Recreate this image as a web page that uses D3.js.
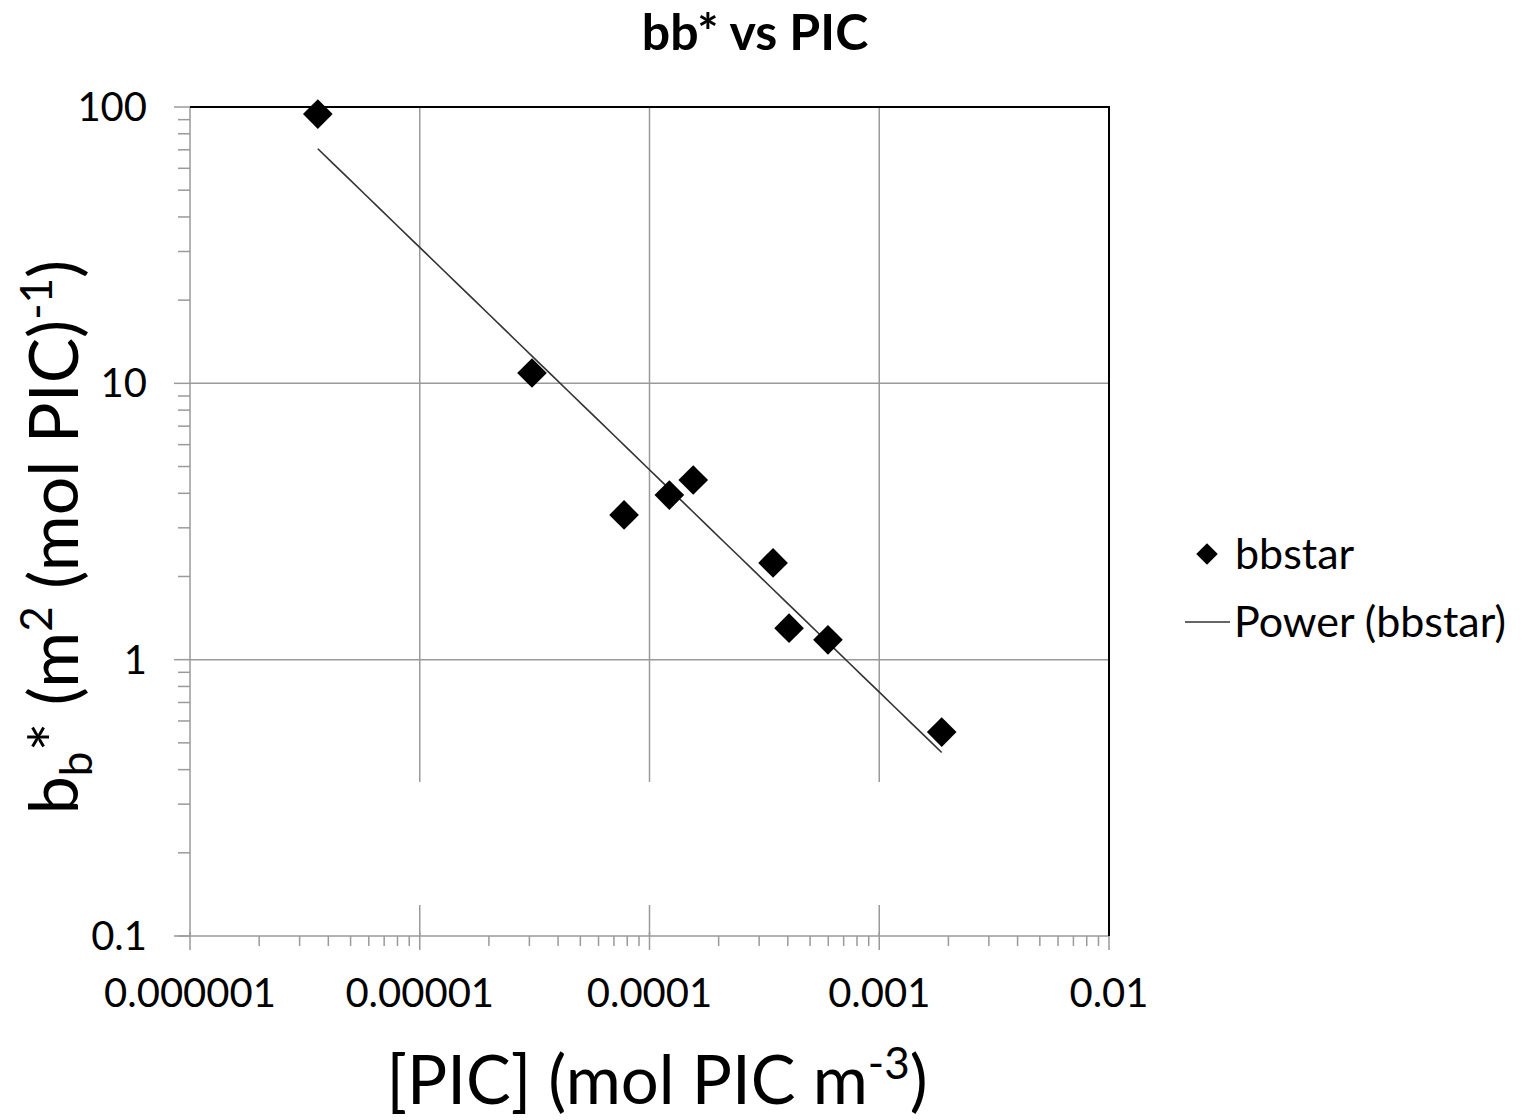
<!DOCTYPE html>
<html>
<head>
<meta charset="utf-8">
<script src="https://cdn.jsdelivr.net/npm/d3@7"></script>
<style>
  html, body { margin: 0; padding: 0; background: #fff; }
  svg { display: block; font-family: Lato, "Open Sans", sans-serif; }
</style>
</head>
<body>
<svg id="chart" width="1523" height="1120"></svg>
<script>
// PIC concentration (mol PIC m^-3) and backscattering per mol PIC
const picValues = [3.6e-6, 3.08e-5, 7.75e-5, 1.22e-4, 1.55e-4, 3.45e-4, 4.05e-4, 5.98e-4, 1.87e-3];
const bbstarValues = [94.3, 10.9, 3.34, 3.94, 4.47, 2.24, 1.30, 1.18, 0.547];

const xTickValues = [1e-6, 1e-5, 1e-4, 1e-3, 1e-2];
const xTickLabels = ["0.000001", "0.00001", "0.0001", "0.001", "0.01"];
const yTickValues = [0.1, 1, 10, 100];
const yTickLabels = ["0.1", "1", "10", "100"];

const svg = d3.select("#chart");
const m = { left: 190, right: 1109, top: 107, bottom: 936 };

const x = d3.scaleLog().domain([1e-6, 1e-2]).range([m.left, m.right]);
const y = d3.scaleLog().domain([0.1, 100]).range([m.bottom, m.top]);

const gridColor = "#9a9a9a";

// Major gridlines
const grid = svg.append("g");
grid.selectAll(".vgrid").data(xTickValues.slice(1, -1)).join("line")
  .attr("x1", d => x(d)).attr("x2", d => x(d))
  .attr("y1", m.top).attr("y2", m.bottom)
  .attr("stroke", gridColor).attr("stroke-width", 1.5);
grid.selectAll(".hgrid").data(yTickValues.slice(1, -1)).join("line")
  .attr("x1", m.left).attr("x2", m.right)
  .attr("y1", d => y(d)).attr("y2", d => y(d))
  .attr("stroke", gridColor).attr("stroke-width", 1.5);
// blank band across the lower plot area
grid.append("rect")
  .attr("x", m.left + 5).attr("width", m.right - m.left - 10)
  .attr("y", 782).attr("height", 123)
  .attr("fill", "#fff");

// Minor tick values (2..9 per decade)
function minorTicks(lo, hi) {
  const out = [];
  for (let e = Math.log10(lo); e < Math.log10(hi); e++) {
    for (let k = 2; k <= 9; k++) out.push(k * Math.pow(10, e));
  }
  return out;
}

// Bottom axis
const xAxis = svg.append("g");
xAxis.append("line").attr("x1", m.left - 12).attr("x2", m.right)
  .attr("y1", m.bottom).attr("y2", m.bottom)
  .attr("stroke", gridColor).attr("stroke-width", 1.5);
xAxis.selectAll(".xmin").data(minorTicks(1e-6, 1e-2)).join("line")
  .attr("x1", d => x(d)).attr("x2", d => x(d))
  .attr("y1", m.bottom).attr("y2", m.bottom + 10)
  .attr("stroke", gridColor).attr("stroke-width", 1.5);
xAxis.selectAll(".xmaj").data(xTickValues).join("line")
  .attr("x1", d => x(d)).attr("x2", d => x(d))
  .attr("y1", m.bottom - 4).attr("y2", m.bottom + 14)
  .attr("stroke", gridColor).attr("stroke-width", 1.5);
xAxis.selectAll(".xlab").data(xTickValues).join("text")
  .attr("x", d => x(d)).attr("y", 1007)
  .attr("text-anchor", "middle").attr("font-size", 40).attr("fill", "#000")
  .text((d, i) => xTickLabels[i]);

// Left axis
const yAxis = svg.append("g");
yAxis.append("line").attr("x1", m.left).attr("x2", m.left)
  .attr("y1", m.top).attr("y2", m.bottom)
  .attr("stroke", gridColor).attr("stroke-width", 1.5);
yAxis.selectAll(".ymin").data(minorTicks(0.1, 100)).join("line")
  .attr("x1", m.left - 12).attr("x2", m.left)
  .attr("y1", d => y(d)).attr("y2", d => y(d))
  .attr("stroke", gridColor).attr("stroke-width", 1.5);
yAxis.selectAll(".ymaj").data(yTickValues).join("line")
  .attr("x1", m.left - 16).attr("x2", m.left)
  .attr("y1", d => y(d)).attr("y2", d => y(d))
  .attr("stroke", gridColor).attr("stroke-width", 1.5);
yAxis.selectAll(".ylab").data(yTickValues).join("text")
  .attr("x", 147).attr("y", d => y(d) + 14)
  .attr("text-anchor", "end").attr("font-size", 40).attr("fill", "#000")
  .text((d, i) => yTickLabels[i]);

// Top and right frame
svg.append("path")
  .attr("d", `M${m.left},${m.top}H${m.right}V${m.bottom}`)
  .attr("fill", "none").attr("stroke", "#000").attr("stroke-width", 2);

// Power-law trend fitted by least squares in log-log space
const lx = picValues.map(Math.log10), ly = bbstarValues.map(Math.log10);
const mx = d3.mean(lx), my = d3.mean(ly);
const slope = d3.sum(lx, (v, i) => (v - mx) * (ly[i] - my)) / d3.sum(lx, v => (v - mx) ** 2);
const intercept = my - slope * mx;
const power = v => Math.pow(10, intercept + slope * Math.log10(v));
const [xMin, xMax] = d3.extent(picValues);
const trendX = d3.range(0, 41).map(i => Math.pow(10, Math.log10(xMin) + i / 40 * (Math.log10(xMax) - Math.log10(xMin))));
svg.append("path")
  .datum(trendX)
  .attr("d", d3.line().x(d => x(d)).y(d => y(power(d))))
  .attr("fill", "none").attr("stroke", "#333").attr("stroke-width", 1.6);

// Data markers (rotated squares)
svg.append("g").selectAll("path").data(picValues).join("path")
  .attr("transform", (d, i) => `translate(${x(d)},${y(bbstarValues[i])}) rotate(45)`)
  .attr("d", d3.symbol().type(d3.symbolSquare).size(440))
  .attr("fill", "#000");

// Title
svg.append("text").attr("x", 755).attr("y", 50)
  .attr("text-anchor", "middle").attr("font-size", 50).attr("font-weight", "bold")
  .text("bb* vs PIC");

// Axis titles
const xt = svg.append("text").attr("x", 657).attr("y", 1104)
  .attr("text-anchor", "middle").attr("font-size", 67);
xt.append("tspan").text("[PIC] (mol PIC m");
xt.append("tspan").attr("font-size", 44).attr("dy", -25).text("-3");
xt.append("tspan").attr("dy", 25).text(")");

const yt = svg.append("text")
  .attr("transform", "translate(78,537) rotate(-90)")
  .attr("text-anchor", "middle").attr("font-size", 68);
yt.append("tspan").text("b");
yt.append("tspan").attr("font-size", 44).attr("dy", 14).text("b");
yt.append("tspan").attr("dy", -14).text("* (m");
yt.append("tspan").attr("font-size", 44).attr("dy", -26).text("2");
yt.append("tspan").attr("dy", 26).text(" (mol PIC)");
yt.append("tspan").attr("font-size", 44).attr("dy", -26).text("-1");
yt.append("tspan").attr("dy", 26).text(")");

// Legend
const lg = svg.append("g");
lg.append("path")
  .attr("transform", "translate(1207,554) rotate(45)")
  .attr("d", d3.symbol().type(d3.symbolSquare).size(230))
  .attr("fill", "#000");
lg.append("text").attr("x", 1235).attr("y", 569).attr("font-size", 43).text("bbstar");
lg.append("line").attr("x1", 1185).attr("x2", 1230).attr("y1", 622).attr("y2", 622)
  .attr("stroke", "#333").attr("stroke-width", 1.6);
lg.append("text").attr("x", 1234).attr("y", 637).attr("font-size", 43).text("Power (bbstar)");
</script>
</body>
</html>
